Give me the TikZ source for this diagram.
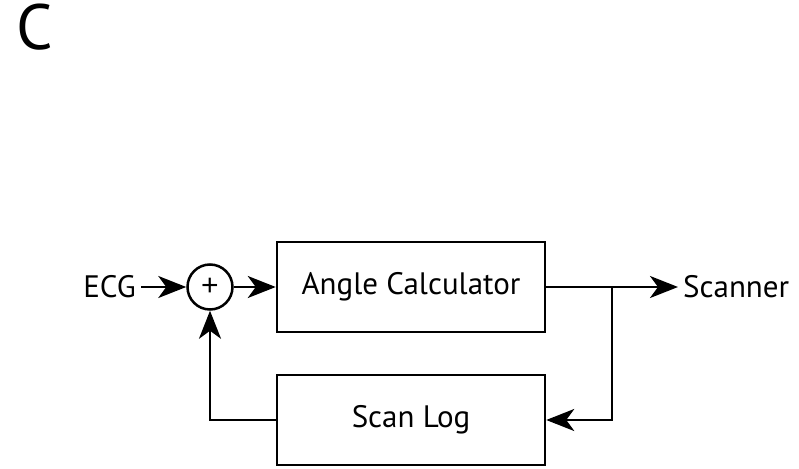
\documentclass[tikz,border=0pt]{standalone}
\usepackage{fontspec}
\setmainfont{PT Sans}
\newfontfamily\plusfont{Liberation Sans}
\usetikzlibrary{arrows.meta,positioning}

\tikzset{
	blk/.style={draw, line width=2.5pt, minimum width=268pt, minimum height=90pt, font=\fontsize{31}{35}\selectfont},
	sumnode/.style={draw, circle, line width=2.5pt, minimum size=45pt, inner sep=0pt, font=\plusfont\fontsize{30}{34}\selectfont},
	lbl/.style={inner sep=5pt, font=\fontsize{31}{35}\selectfont},
	arr/.style={line width=2.5pt, -{Stealth[length=28pt, width=22pt, inset=8pt]}},
	ln/.style={line width=2.5pt}
}

\begin{document}
\begin{tikzpicture}[x=1pt, y=-1pt]
	\useasboundingbox (0,0) rectangle (799,468);

	\node[anchor=north west, inner sep=0pt, font=\fontsize{64}{70}\selectfont]	(panel)	at (16,4)	{C};

	\node[sumnode]	(sum)	at (210,287)	{+};
	\node[blk]	(calc)	at (411,287)	{Angle Calculator};
	\node[blk]	(log)	at (411,420)	{Scan Log};
	\node[lbl, anchor=east]	(ecg)	at (141,287)	{ECG};
	\node[lbl, anchor=west]	(scanner)	at (678,287)	{Scanner};
	\coordinate	(split)	at (612,287);

	\draw[arr]	(ecg)	--	(sum);
	\draw[arr]	(sum)	--	(calc);
	\draw[arr]	(calc)	--	(scanner);
	\draw[arr]	(split)	|-	(log);
	\draw[arr]	(log)	-|	(sum);

\end{tikzpicture}
\end{document}
